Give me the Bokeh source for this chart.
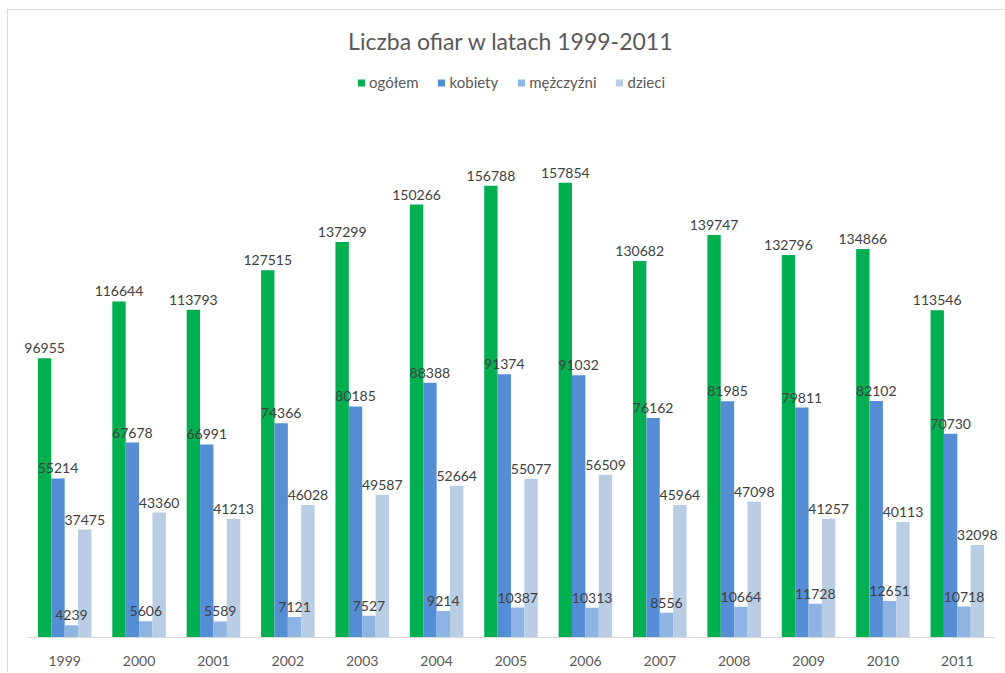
from bokeh.plotting import figure
from bokeh.models import ColumnDataSource, LabelSet, Legend, LegendItem, Range1d
from bokeh.core.properties import value
from bokeh.transform import dodge
from bokeh.embed import file_html
from bokeh.resources import INLINE

years = ["1999", "2000", "2001", "2002", "2003", "2004", "2005", "2006", "2007", "2008", "2009", "2010", "2011"]
ogolem = [96955, 116644, 113793, 127515, 137299, 150266, 156788, 157854, 130682, 139747, 132796, 134866, 113546]
kobiety = [55214, 67678, 66991, 74366, 80185, 88388, 91374, 91032, 76162, 81985, 79811, 82102, 70730]
mezczyzni = [4239, 5606, 5589, 7121, 7527, 9214, 10387, 10313, 8556, 10664, 11728, 12651, 10718]
dzieci = [37475, 43360, 41213, 46028, 49587, 52664, 55077, 56509, 45964, 47098, 41257, 40113, 32098]

series = [("ogółem", ogolem, "#00B050", -0.27),
          ("kobiety", kobiety, "#558ED5", -0.09),
          ("mężczyźni", mezczyzni, "#8DB4E2", 0.09),
          ("dzieci", dzieci, "#B9CDE5", 0.27)]

FONT = "Lato"

p = figure(x_range=years, y_range=Range1d(0, 197500), width=997, height=663,
           output_backend="svg", toolbar_location=None,
           min_border_left=11, min_border_right=3, min_border_bottom=36, min_border_top=58)
p.styles = {"margin-left": "7px", "margin-top": "9px",
            "border-top": "1px solid #d9d9d9", "border-left": "1px solid #d9d9d9"}
p.x_range.range_padding = 0.1075
p.x_range.range_padding_units = "absolute"

data = {"years": years}
for name, vals, color, off in series:
    data[name] = vals
    data[name + "_t"] = [str(v) for v in vals]
src = ColumnDataSource(data)

items = []
for name, vals, color, off in series:
    r = p.vbar(x=dodge("years", off, range=p.x_range), top=name, width=0.18,
               source=src, fill_color=color, line_color=None)
    items.append(LegendItem(label=name, renderers=[r]))
    lbl = LabelSet(x=dodge("years", off, range=p.x_range), y=name, text=name + "_t",
                   source=src, text_align="center", text_baseline="bottom", y_offset=5,
                   text_font=value(FONT), text_font_size="14px", text_color="#404040")
    p.add_layout(lbl)

p.title.text = "Liczba ofiar w latach 1999-2011"
p.title.align = "center"
p.title.vertical_align = "top"
p.title.text_font = FONT
p.title.text_font_size = "23px"
p.title.text_font_style = "normal"
p.title.text_color = "#595959"
p.title.standoff = 23

legend = Legend(items=items, orientation="horizontal", location="top_center",
                label_text_font=FONT, label_text_font_size="15px", label_text_color="#595959",
                glyph_width=9, glyph_height=9, spacing=18, label_standoff=4,
                margin=5, padding=2,
                border_line_color=None, background_fill_alpha=0)
p.add_layout(legend)

p.yaxis.visible = False
p.xgrid.grid_line_color = None
p.ygrid.grid_line_color = None
p.outline_line_color = None
p.xaxis.bounds = (0, len(years))
p.xaxis.axis_line_color = "#d9d9d9"
p.xaxis.major_tick_line_color = None
p.xaxis.minor_tick_line_color = None
p.xaxis.major_tick_out = 0
p.xaxis.major_label_text_font = FONT
p.xaxis.major_label_text_font_size = "14px"
p.xaxis.major_label_text_color = "#595959"
p.xaxis.major_label_standoff = 18

open("out.html", "w").write(file_html(p, INLINE))
